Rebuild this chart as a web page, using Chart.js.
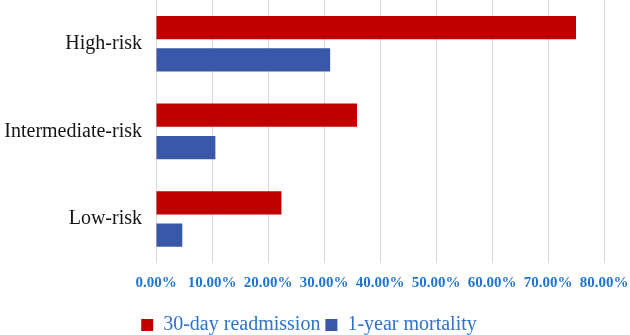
<!DOCTYPE html>
<html>
<head>
<meta charset="utf-8">
<script src="https://cdn.jsdelivr.net/npm/chart.js@4/dist/chart.umd.min.js"></script>
<style>
  html, body { margin: 0; padding: 0; background: #fff; }
  #wrap { width: 630px; height: 335px; }
</style>
</head>
<body>
<div id="wrap"><canvas id="risk-chart"></canvas></div>
<script>
// Risk groups vs outcome rates (%)
const categories = ['High-risk', 'Intermediate-risk', 'Low-risk'];
const readmission30 = [75.0, 35.9, 22.4];
const mortality1y = [31.1, 10.6, 4.7];
const xTicks = [0, 10, 20, 30, 40, 50, 60, 70, 80];

const RED = '#C00000';
const BLUE = '#3A58A8';

// let the long category label run into the left padding instead of being clipped
const unclipYLabels = {
  id: 'unclipYLabels',
  afterLayout: chart => { chart.scales.y.left = 0; }
};

new Chart(document.getElementById('risk-chart'), {
  type: 'bar',
  data: {
    labels: categories,
    datasets: [
      { label: '30-day readmission', data: readmission30, backgroundColor: RED,
        categoryPercentage: 0.738, barPercentage: 0.72 },
      { label: '1-year mortality', data: mortality1y, backgroundColor: BLUE,
        categoryPercentage: 0.738, barPercentage: 0.72 },
    ]
  },
  options: {
    indexAxis: 'y', responsive: true, maintainAspectRatio: false, animation: false,
    layout: { padding: { top: 0, right: 26, left: 14, bottom: -10 } },
    scales: {
      x: {
        min: 0, max: 80,
        afterBuildTicks: axis => { axis.ticks = xTicks.map(v => ({ value: v })); },
        afterFit: s => { s.paddingLeft = 0; s.paddingRight = 0; },
        grid: { color: '#D9D9D9', lineWidth: 1, drawTicks: false },
        border: { display: false },
        ticks: {
          padding: 11, color: '#1F76CE', maxRotation: 0, minRotation: 0, autoSkip: false,
          font: { family: 'Liberation Serif', size: 15, weight: 'bold' },
          callback: v => v.toFixed(2) + '%'
        },
        // empty title just to leave room above the legend
        title: { display: true, text: '', font: { size: 1 }, padding: { top: 0, bottom: 6 } }
      },
      y: {
        grid: { display: false, drawTicks: false },
        border: { display: false },
        ticks: { color: '#151515', padding: 14, font: { family: 'Liberation Serif', size: 20 } },
        afterFit: s => { s.width = 142; s.paddingTop = 0; s.paddingBottom = 0; }
      }
    },
    plugins: {
      legend: {
        position: 'bottom',
        labels: {
          boxWidth: 12, boxHeight: 12, padding: 5, color: '#2E72CC',
          font: { family: 'Liberation Serif', size: 20 }
        }
      },
      tooltip: { callbacks: { label: c => c.dataset.label + ': ' + c.parsed.x.toFixed(2) + '%' } }
    }
  },
  plugins: [unclipYLabels]
});
</script>
</body>
</html>
